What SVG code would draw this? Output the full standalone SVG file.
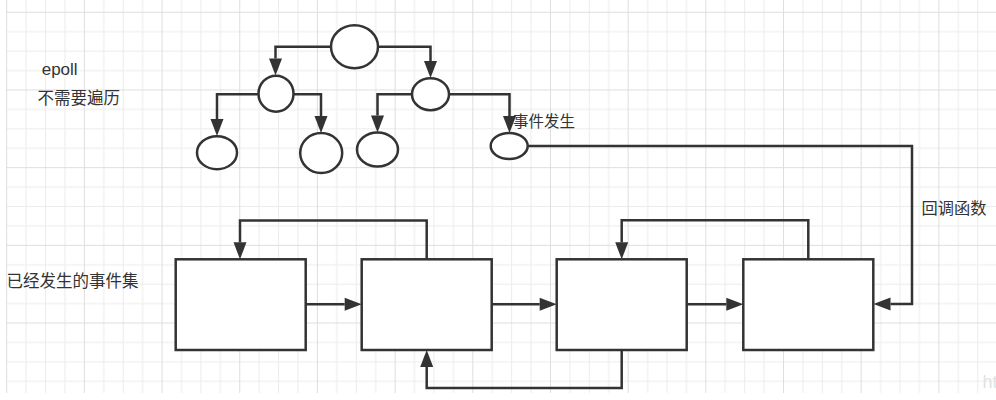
<svg xmlns="http://www.w3.org/2000/svg" width="996" height="400" viewBox="0 0 996 400">
<style>
.ln{fill:none;stroke:#333;stroke-width:2.5;stroke-linejoin:miter}
.nd{fill:#fff;stroke:#333;stroke-width:2.5}
.tx{font-family:"Liberation Sans","Noto Sans CJK SC",sans-serif;fill:#333}
.mi{stroke:#ececec;stroke-width:1}
.ma{stroke:#dedede;stroke-width:1}
</style>
<defs>
<pattern id="grid" x="6.2" y="11.8" width="77.68" height="77.68" patternUnits="userSpaceOnUse">
<line class="mi" x1="19.92" y1="0" x2="19.92" y2="77.68"/>
<line class="mi" x1="39.34" y1="0" x2="39.34" y2="77.68"/>
<line class="mi" x1="58.76" y1="0" x2="58.76" y2="77.68"/>
<line class="mi" x1="0" y1="19.92" x2="77.68" y2="19.92"/>
<line class="mi" x1="0" y1="39.34" x2="77.68" y2="39.34"/>
<line class="mi" x1="0" y1="58.76" x2="77.68" y2="58.76"/>
<line class="ma" x1="0.5" y1="0" x2="0.5" y2="77.68"/>
<line class="ma" x1="0" y1="0.5" x2="77.68" y2="0.5"/>
</pattern>
<marker id="arr" markerUnits="userSpaceOnUse" markerWidth="20" markerHeight="16" refX="0" refY="0" orient="auto" overflow="visible">
<path d="M0,-6.5 L17,0 L0,6.5 Z" fill="#333"/>
</marker>
</defs>
<rect x="0" y="0" width="996" height="400" fill="#fff"/>
<rect x="6" y="0" width="990" height="393" fill="url(#grid)"/>
<text x="982.5" y="388" font-family="Liberation Sans, sans-serif" font-size="18" fill="#e2e2e2">ht</text>

<g id="connectors">
<path class="ln" marker-end="url(#arr)" d="M331,46.7 H275.5 V58.5"/>
<path class="ln" marker-end="url(#arr)" d="M378,46.7 H430.5 V61"/>
<path class="ln" marker-end="url(#arr)" d="M258.5,94.3 H217 V119"/>
<path class="ln" marker-end="url(#arr)" d="M293.5,94.3 H321 V116"/>
<path class="ln" marker-end="url(#arr)" d="M412,94.3 H377.5 V115.5"/>
<path class="ln" marker-end="url(#arr)" d="M449,94.3 H509.5 V116"/>
<path class="ln" marker-end="url(#arr)" d="M527.5,146 H912 V304 H890.5"/>
<path class="ln" marker-end="url(#arr)" d="M305.7,304.3 H344.7"/>
<path class="ln" marker-end="url(#arr)" d="M491.7,304.3 H539.7"/>
<path class="ln" marker-end="url(#arr)" d="M686.7,304.3 H726.3"/>
<path class="ln" marker-end="url(#arr)" d="M426.7,259.3 V220.5 H240 V242.3"/>
<path class="ln" marker-end="url(#arr)" d="M808.3,259.3 V220.3 H621.7 V242.3"/>
<path class="ln" marker-end="url(#arr)" d="M621.7,350 V388 H426.7 V367"/>
</g>

<g id="root"><ellipse class="nd" cx="354.5" cy="46.7" rx="23.5" ry="21.5"/></g>
<g id="left-child"><ellipse class="nd" cx="276" cy="93.7" rx="17.5" ry="18"/></g>
<g id="right-child"><ellipse class="nd" cx="430.5" cy="94.2" rx="18.5" ry="16"/></g>
<g id="leaf-ll"><ellipse class="nd" cx="217" cy="152.7" rx="20" ry="16.5"/></g>
<g id="leaf-lr"><ellipse class="nd" cx="321.2" cy="153" rx="21" ry="20"/></g>
<g id="leaf-rl"><ellipse class="nd" cx="377.5" cy="149.5" rx="20.5" ry="17"/></g>
<g id="leaf-rr"><ellipse class="nd" cx="509.2" cy="146" rx="18.5" ry="13"/></g>

<g id="box1"><rect class="nd" x="175.7" y="259.3" width="130" height="90.7"/></g>
<g id="box2"><rect class="nd" x="361.7" y="259.3" width="130" height="90.7"/></g>
<g id="box3"><rect class="nd" x="556.7" y="259.3" width="130" height="90.7"/></g>
<g id="box4"><rect class="nd" x="743.3" y="259.3" width="130" height="90.7"/></g>

<g id="labels">
<text class="tx" x="41.7" y="74.5" font-size="17">epoll</text>
<text class="tx" x="37.5" y="103.8" font-size="16.5">不需要遍历</text>
<text class="tx" x="6.5" y="287" font-size="16.5">已经发生的事件集</text>
<text class="tx" x="921.5" y="213.8" font-size="16.25">回调函数</text>
<text class="tx" x="513" y="127" font-size="15.5">事件发生</text>
</g>
</svg>
